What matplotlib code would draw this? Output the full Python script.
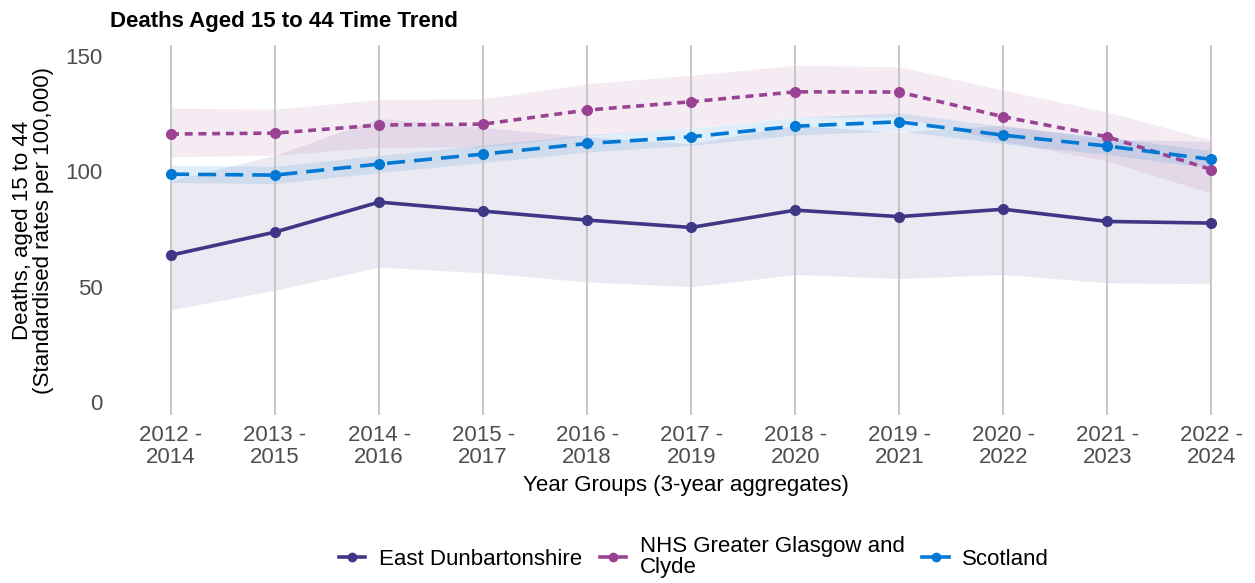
import matplotlib.pyplot as plt
from matplotlib.lines import Line2D
import numpy as np

plt.rcParams['font.family'] = ['Liberation Sans', 'DejaVu Sans']

periods = ["2012 -\n2014", "2013 -\n2015", "2014 -\n2016", "2015 -\n2017", "2016 -\n2018",
           "2017 -\n2019", "2018 -\n2020", "2019 -\n2021", "2020 -\n2022", "2021 -\n2023",
           "2022 -\n2024"]

ed = [63.7, 73.7, 86.7, 82.8, 78.9, 75.7, 83.2, 80.4, 83.6, 78.3, 77.6]
ed_lo = [40.0, 48.5, 58.5, 56.0, 52.1, 50.0, 55.3, 53.6, 55.3, 51.7, 51.3]
ed_hi = [96.0, 107.0, 123.0, 119.0, 115.0, 112.0, 120.0, 117.0, 120.0, 114.0, 113.0]

nhs = [116.2, 116.6, 120.1, 120.5, 126.6, 130.2, 134.5, 134.4, 123.7, 115.0, 100.8]
nhs_lo = [106.3, 107.0, 110.5, 110.5, 115.5, 119.0, 123.5, 123.5, 113.0, 104.5, 90.5]
nhs_hi = [127.4, 127.0, 131.2, 131.5, 138.0, 141.7, 146.0, 145.4, 135.2, 125.8, 113.6]

scot = [98.8, 98.4, 103.2, 107.5, 112.1, 115.0, 119.6, 121.5, 115.7, 111.0, 105.2]
scot_lo = [95.2, 94.7, 99.5, 103.8, 108.4, 111.3, 115.8, 117.6, 112.0, 107.3, 101.5]
scot_hi = [102.6, 102.2, 107.0, 111.3, 115.9, 118.8, 123.4, 125.4, 119.5, 114.8, 109.0]

names = ["East Dunbartonshire", "NHS Greater Glasgow and\nClyde", "Scotland"]
colours = ["#3F3685", "#9B4393", "#0078D4"]
band_alpha = [0.10, 0.10, 0.12]
styles = ["-", (0, (2.2, 1.6)), (0, (5, 2.5))]

x = np.arange(len(periods))

fig = plt.figure(figsize=(12.55, 5.83), dpi=100)
ax = fig.add_axes([119/1255, 1 - 415/583, (1253 - 119)/1255, (415 - 45)/583])

series = [(ed, ed_lo, ed_hi), (nhs, nhs_lo, nhs_hi), (scot, scot_lo, scot_hi)]
for (y, lo, hi), c, a in zip(series, colours, band_alpha):
    ax.fill_between(x, lo, hi, color=c, alpha=a, linewidth=0, zorder=1)

for (y, lo, hi), c, ls in zip(series, colours, styles):
    ax.plot(x, y, color=c, linestyle=ls, linewidth=2.6, marker="o", markersize=7, zorder=3)

ax.set_xlim(-0.5, 10.4)
ax.set_ylim(-5.6, 154.8)
ax.set_yticks([0, 50, 100, 150])
ax.set_xticks(x)
ax.set_xticklabels(periods, linespacing=1.1)
ax.tick_params(axis="both", length=0, labelsize=16, colors="#4d4d4d")
ax.tick_params(axis="x", pad=7)
ax.tick_params(axis="y", pad=12)
ax.grid(axis="x", color="#bfbfbf", linewidth=1.2, zorder=0)
ax.grid(axis="y", visible=False)
for s in ax.spines.values():
    s.set_visible(False)

ax.set_xlabel("Year Groups (3-year aggregates)", fontsize=16, labelpad=5)
ax.set_ylabel("Deaths, aged 15 to 44\n(Standardised rates per 100,000)", fontsize=16,
              labelpad=8, linespacing=1.0)
fig.text(110/1255, 1 - 22/583, "Deaths Aged 15 to 44 Time Trend", fontsize=16, fontweight="bold",
         va="center", ha="left")

handles = [Line2D([0], [0], color=c, linewidth=2.6, marker="o", markersize=6) for c in colours]
fig.legend(handles, names, loc="center", bbox_to_anchor=(0.553, 1 - 557/583), ncol=3,
           frameon=False, fontsize=16, handlelength=1.2, handletextpad=0.6, columnspacing=0.8)
for t in fig.legends[0].get_texts():
    t.set_linespacing(1.0)

fig.savefig("out.png", dpi=100)
